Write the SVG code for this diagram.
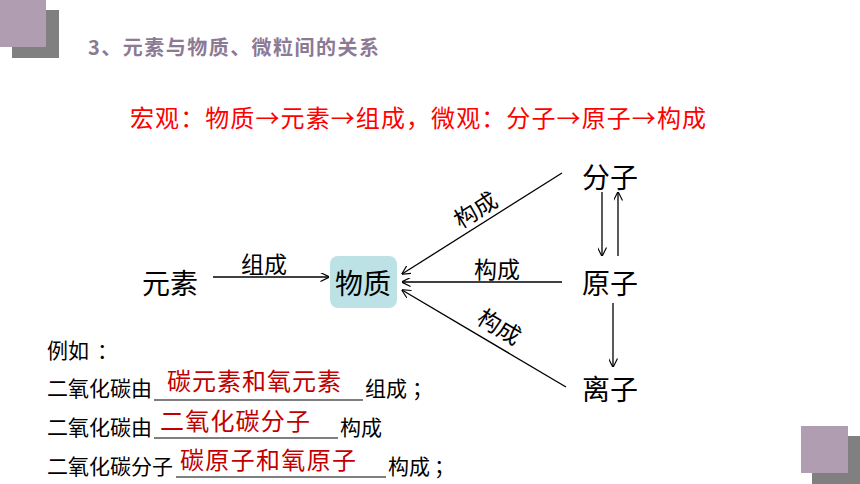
<svg xmlns="http://www.w3.org/2000/svg" width="860" height="484" viewBox="0 0 860 484">
<style>
text{font-family:"Noto Sans CJK SC","Microsoft YaHei","Noto Sans",sans-serif;}
.node{font-size:28px;fill:#000;}
.lbl{font-size:23px;fill:#000;}
.body{font-size:21px;fill:#000;}
.ans{font-size:24px;fill:#c00000;}
.edge{stroke:#000;stroke-width:1.3;fill:none;marker-end:url(#arr);}
.ul{stroke:#000;stroke-width:1.2;}
</style>
<defs>
<marker id="arr" viewBox="0 0 10 10" refX="9.5" refY="5" markerWidth="9" markerHeight="9" markerUnits="userSpaceOnUse" orient="auto">
<path d="M0,0 L10,5 L0,10" fill="none" stroke="#000" stroke-width="1.3"/>
</marker>
</defs>
<rect width="860" height="484" fill="#fff"/>
<g id="deco">
<rect x="12" y="10" width="47" height="48" fill="#808080"/>
<rect x="0" y="0" width="46" height="47" fill="#b09db1"/>
<rect x="812" y="436" width="48" height="48" fill="#808080"/>
<rect x="801" y="426" width="47" height="47" fill="#b09db1"/>
</g>
<text x="88" y="55" font-size="20" font-weight="bold" fill="#8c7a95" textLength="291" lengthAdjust="spacing">3、元素与物质、微粒间的关系</text>
<text x="130" y="127" font-size="24" fill="#ff0000" textLength="576" lengthAdjust="spacing">宏观：物质→元素→组成，微观：分子→原子→构成</text>
<g id="connectors">
<line class="edge" x1="213" y1="277" x2="329" y2="277"/>
<line class="edge" x1="562" y1="173" x2="402" y2="274"/>
<line class="edge" x1="562" y1="282" x2="402" y2="282"/>
<line class="edge" x1="566" y1="387" x2="402" y2="290"/>
<line class="edge" x1="602" y1="192" x2="602" y2="256"/>
<line class="edge" x1="618" y1="256" x2="618" y2="192"/>
<line class="edge" x1="613" y1="303" x2="613" y2="367"/>
<text class="lbl" x="264" y="273" text-anchor="middle">组成</text>
<text class="lbl" x="497" y="278" text-anchor="middle">构成</text>
<text class="lbl" x="0" y="0" text-anchor="middle" transform="translate(480,217) rotate(-32)">构成</text>
<text class="lbl" x="0" y="0" text-anchor="middle" transform="translate(495,334) rotate(31)">构成</text>
</g>
<g id="n-yuansu"><text class="node" x="170" y="294" text-anchor="middle">元素</text></g>
<g id="n-wuzhi">
<rect x="330" y="256" width="67" height="52" rx="8" fill="#bde2e6"/>
<text class="node" x="363" y="294" text-anchor="middle">物质</text>
</g>
<g id="n-fenzi"><text class="node" x="610" y="188" text-anchor="middle">分子</text></g>
<g id="n-yuanzi"><text class="node" x="610" y="294" text-anchor="middle">原子</text></g>
<g id="n-lizi"><text class="node" x="610" y="400" text-anchor="middle">离子</text></g>
<g id="examples">
<text class="body" x="47" y="358">例如<tspan x="97">：</tspan></text>
<text class="body" x="47" y="396">二氧化碳由</text>
<line class="ul" x1="154" y1="400" x2="363" y2="400"/>
<text class="ans" x="167" y="390" textLength="174" lengthAdjust="spacing">碳元素和氧元素</text>
<text class="body" x="365" y="396">组成<tspan x="412">；</tspan></text>
<text class="body" x="47" y="435">二氧化碳由</text>
<line class="ul" x1="154" y1="438" x2="338" y2="438"/>
<text class="ans" x="160" y="430" textLength="150" lengthAdjust="spacing">二氧化碳分子</text>
<text class="body" x="340" y="435">构成</text>
<text class="body" x="47" y="474">二氧化碳分子</text>
<line class="ul" x1="176" y1="477" x2="386" y2="477"/>
<text class="ans" x="180" y="469" textLength="176" lengthAdjust="spacing">碳原子和氧原子</text>
<text class="body" x="388" y="474">构成<tspan x="434">；</tspan></text>
</g>
</svg>
